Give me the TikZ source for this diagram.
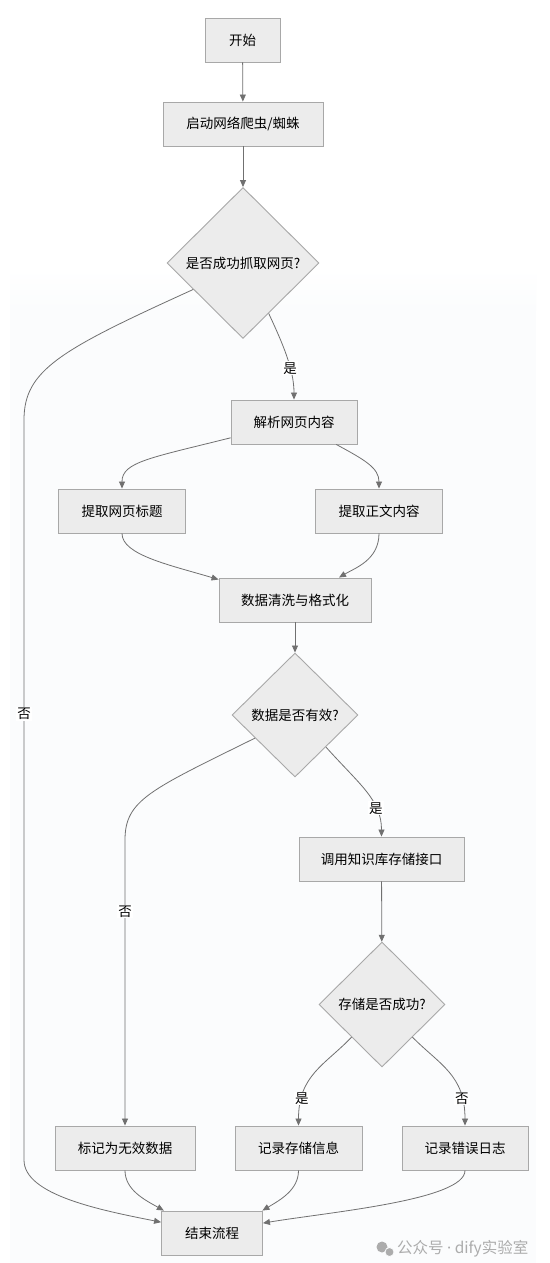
\documentclass[tikz,border=0pt]{standalone}
\usepackage{fontspec}
\setmainfont{Noto Sans CJK SC}
\newfontfamily\latinfont{Noto Sans}
\usepackage{tikz}
\usetikzlibrary{arrows.meta, positioning, shapes.geometric}
\definecolor{boxfill}{RGB}{236,236,236}
\definecolor{boxline}{RGB}{168,168,168}
\definecolor{flowline}{RGB}{112,112,112}
\definecolor{panelbg}{RGB}{251,252,253}
\definecolor{markgray}{RGB}{172,172,172}

\begin{document}
\begin{tikzpicture}[x=1pt, y=-1pt,
    box/.style={draw=boxline, fill=boxfill, line width=0.9pt,
      minimum height=44pt, inner xsep=0pt, font=\fontsize{13.5}{16}\selectfont},
    decide/.style={diamond, aspect=1, draw=boxline, fill=boxfill, line width=0.9pt,
      inner sep=0pt, font=\fontsize{13.5}{16}\selectfont},
    flow/.style={draw=flowline, line width=0.8pt,
      -{Triangle[length=7pt, width=6pt]}},
    lbl/.style={fill=white, inner sep=1pt, font=\fontsize{13.5}{16}\selectfont}]
    % canvas and faint panel
    \useasboundingbox[fill=white] (0,0) rectangle (549,1263);
    \shade[top color=white, bottom color=panelbg] (10,268) rectangle (536,310);
    \fill[panelbg] (10,309.5) rectangle (536,1263);

    % nodes
    \node[box, minimum width=75pt]  (start)   at (242.5,40)  {开始};
    \node[box, minimum width=160pt] (crawl)   at (243,124)   {启动网络爬虫/蜘蛛};
    \node[decide, minimum width=152pt, minimum height=151pt] (fetchok) at (243,263) {是否成功抓取网页?};
    \node[box, minimum width=126pt] (parse)   at (294,422)   {解析网页内容};
    \node[box, minimum width=127pt] (title)   at (122,511)   {提取网页标题};
    \node[box, minimum width=127pt] (body)    at (379,511)   {提取正文内容};
    \node[box, minimum width=152pt] (clean)   at (295,600)   {数据清洗与格式化};
    \node[decide, minimum width=126pt, minimum height=124pt] (valid) at (295,715) {数据是否有效?};
    \node[box, minimum width=165pt] (store)   at (381.5,859) {调用知识库存储接口};
    \node[decide, minimum width=126pt, minimum height=125pt] (storeok) at (382,1004.5) {存储是否成功?};
    \node[box, minimum width=140pt] (mark)    at (125,1148)  {标记为无效数据};
    \node[box, minimum width=127pt] (saved)   at (298.5,1148) {记录存储信息};
    \node[box, minimum width=126pt] (errlog)  at (465,1148)  {记录错误日志};
    \node[box, minimum width=101pt] (finish)  at (212,1233)  {结束流程};

    % connectors
    \draw[flow] (start) -- (crawl);
    \draw[flow] (crawl) -- (fetchok);
    \draw[flow] (fetchok.297) .. controls +(14,30) and +(0,-30) .. (parse.north)
      node[lbl, pos=0.64] {是};
    \draw[flow] (fetchok.208) .. controls (60,350) and (24,370) .. (24,420)
      -- node[lbl, pos=0.397] {否} (24,1160)
      .. controls (24,1195) and (100,1210) .. (finish.168);
    \draw[flow] (parse.194) .. controls (150,458) and (122,462) .. (title.north);
    \draw[flow] (parse.332) .. controls (365,460) and (379,468) .. (body.north);
    \draw[flow] (title.south) .. controls (122,555) and (170,565) .. (clean.165);
    \draw[flow] (body.south) .. controls (379,560) and (355,568) .. (clean.27);
    \draw[flow] (clean) -- (valid);
    \draw[flow] (valid.314) .. controls (360,785) and (381.5,800) .. (store.north)
      node[lbl, pos=0.7] {是};
    \draw[flow] (valid.210) .. controls (150,790) and (125,800) .. (125,840)
      -- node[lbl, pos=0.25] {否} (mark.north);
    \draw[flow] (store) -- (storeok);
    \draw[flow] (storeok.227) .. controls (325,1065) and (298.5,1075) .. (saved.north)
      node[lbl, pos=0.79] {是};
    \draw[flow] (storeok.313) .. controls (440,1065) and (465,1075) .. (errlog.north)
      node[lbl, pos=0.79] {否};
    \draw[flow] (mark.south) .. controls (125,1190) and (145,1200) .. (finish.155);
    \draw[flow] (saved.south) .. controls (298.5,1190) and (280,1200) .. (finish.24);
    \draw[flow] (errlog.south) .. controls (465,1200) and (330,1212) .. (finish.11);

    % watermark
    \fill[markgray] (382,1247) circle (5.5pt);
    \fill[markgray, draw=panelbg, line width=0.8pt] (389.5,1252) circle (4.5pt);
    \node[text=markgray, font=\fontsize{15.5}{18}\selectfont, anchor=west, inner sep=0pt] (wmark)
      at (397,1249) {公众号 {\latinfont·} dify实验室};
\end{tikzpicture}
\end{document}
